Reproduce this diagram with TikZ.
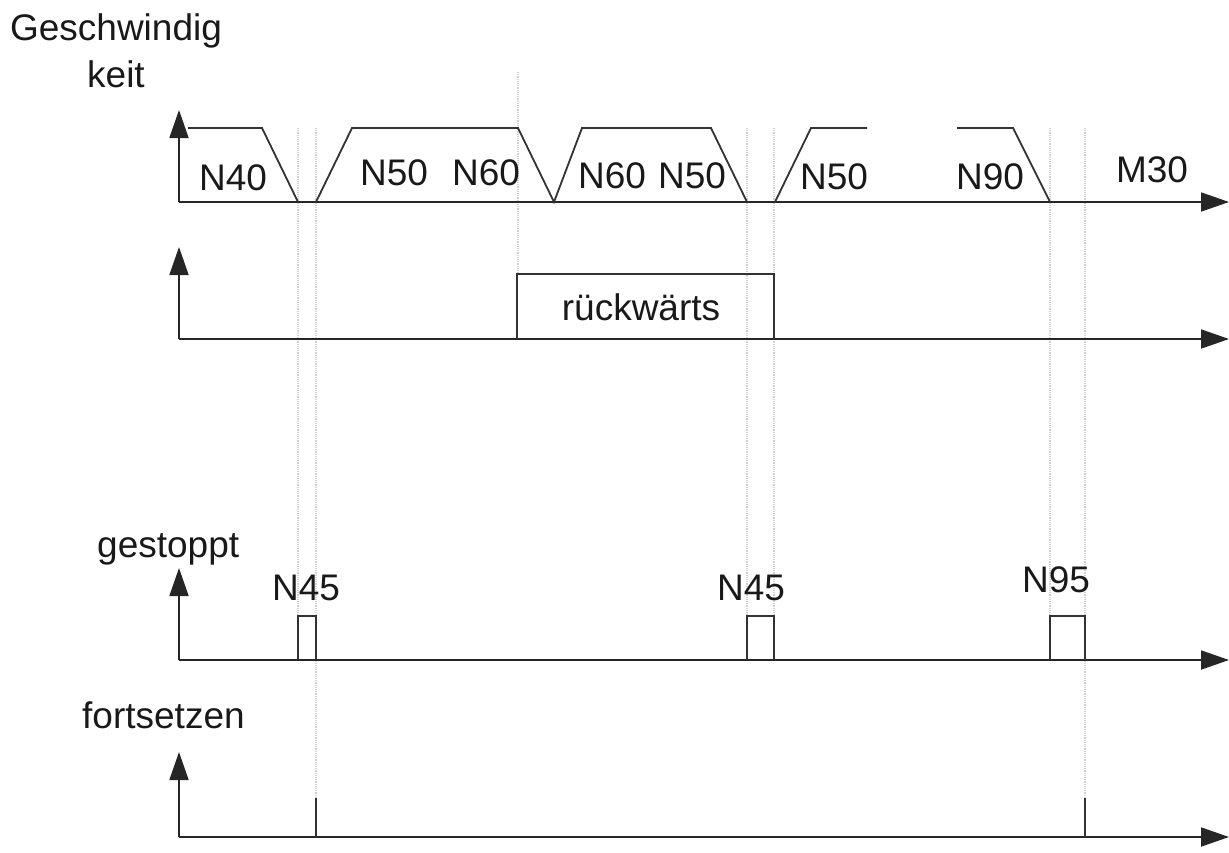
\documentclass[tikz,border=0pt]{standalone}
\usepackage{fontspec}
\setmainfont{Liberation Sans}
\usetikzlibrary{arrows.meta}
\begin{document}
\begin{tikzpicture}[x=1pt,y=-1pt,
  sig/.style={line width=1.8pt,draw=black!80,line join=miter},
  axis/.style={line width=1.8pt,draw=black!85,-{Triangle[width=19pt,length=28pt]}},
  guide/.style={line width=1.2pt,draw=black!18,densely dotted},
  lbl/.style={inner sep=0pt,anchor=base west,font=\fontsize{37}{47}\selectfont,text=black!90},
  clbl/.style={inner sep=0pt,anchor=center,font=\fontsize{37}{47}\selectfont,text=black!90}]
\useasboundingbox (0,0) rectangle (1229,852);

% guide lines
\draw[guide] (298,128) -- (298,660);
\draw[guide] (316,128) -- (316,800);
\draw[guide] (518,72) -- (518,275);
\draw[guide] (747,128) -- (747,616);
\draw[guide] (774,128) -- (774,616);
\draw[guide] (1050,128) -- (1050,616);
\draw[guide] (1085,128) -- (1085,800);

% coordinates
\coordinate (o1) at (179,202); \coordinate (y1) at (179,110); \coordinate (x1) at (1229,202);
\coordinate (o2) at (179,339); \coordinate (y2) at (179,247); \coordinate (x2) at (1229,339);
\coordinate (o3) at (179,660); \coordinate (y3) at (179,568); \coordinate (x3) at (1229,660);
\coordinate (o4) at (179,837); \coordinate (y4) at (179,752); \coordinate (x4) at (1229,837);

% axes
\draw[axis] (o1) -- (y1);
\draw[axis] (o1) -- (x1);
\draw[axis] (o2) -- (y2);
\draw[axis] (o2) -- (x2);
\draw[axis] (o3) -- (y3);
\draw[axis] (o3) -- (x3);
\draw[axis] (o4) -- (y4);
\draw[axis] (o4) -- (x4);

% speed profile
\draw[sig] (188,128) -- (262,128) -- (298,202);
\draw[sig] (316,202) -- (352,128) -- (518,128) -- (554,202) -- (582,128) -- (711,128) -- (747,202);
\draw[sig] (775,202) -- (811,128) -- (867,128);
\draw[sig] (957,128) -- (1013,128) -- (1050,202);

% rueckwaerts
\draw[sig] (517,339) -- (517,274) -- (774,274) -- (774,339);

% gestoppt pulses
\draw[sig] (298,660) -- (298,616) -- (316,616) -- (316,660);
\draw[sig] (747,660) -- (747,616) -- (774,616) -- (774,660);
\draw[sig] (1050,660) -- (1050,616) -- (1085,616) -- (1085,660);

% fortsetzen spikes
\draw[sig] (316,837) -- (316,798);
\draw[sig] (1085,837) -- (1085,798);

% labels
\node[inner sep=0pt,align=center,anchor=base,font=\fontsize{37}{47}\selectfont,text=black!90] (lv) at (116,87) {Geschwindig\\keit};
\node[clbl] (n40) at (233,178) {N40};
\node[clbl] (n50a) at (394,173) {N50};
\node[clbl] (n60a) at (486,173) {N60};
\node[clbl] (n60b) at (612,176) {N60};
\node[clbl] (n50b) at (692,176) {N50};
\node[clbl] (n50c) at (834,177) {N50};
\node[clbl] (n90) at (990,177) {N90};
\node[clbl] (m30) at (1152,170) {M30};
\node[lbl,anchor=base] (rw) at (641,320) {rückwärts};
\node[lbl] (gs) at (97,557) {gestoppt};
\node[lbl] (n45a) at (272,600) {N45};
\node[lbl] (n45b) at (717,600) {N45};
\node[lbl] (n95) at (1022,592) {N95};
\node[lbl] (fs) at (82,728) {fortsetzen};
\end{tikzpicture}
\end{document}
